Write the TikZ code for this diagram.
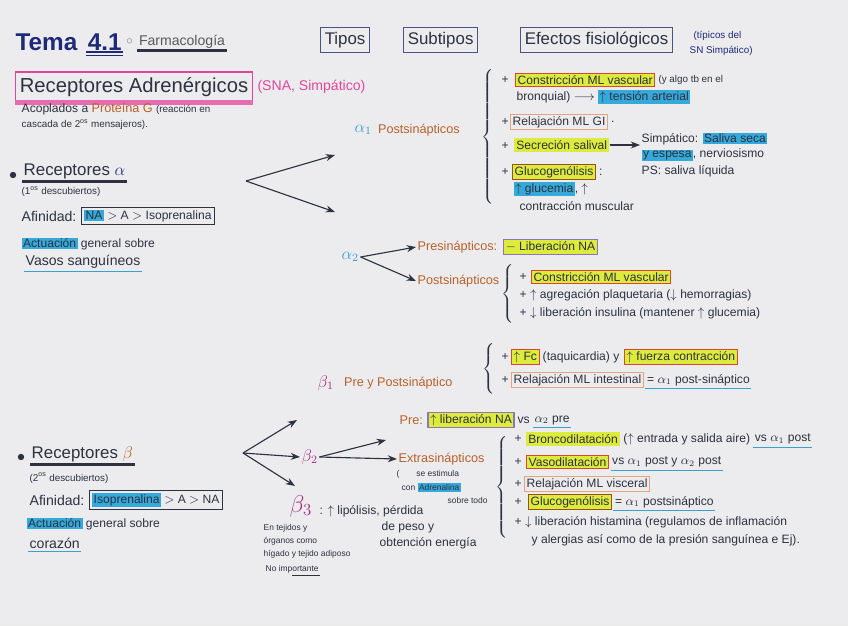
\documentclass[tikz,border=0pt]{standalone}
\usepackage{fontspec}
\setmainfont{Liberation Sans}
\usepackage{amsmath,amssymb}
\usepackage{xcolor}
\usepackage{tikz}
\usetikzlibrary{arrows.meta, positioning, calc}
\definecolor{ink}{HTML}{2E3140}
\definecolor{navy}{HTML}{1E2A78}
\definecolor{rust}{HTML}{B8612A}
\definecolor{sky}{HTML}{3AA0D2}
\definecolor{plum}{HTML}{A3317F}
\definecolor{rosa}{HTML}{E0479B}
\definecolor{hlyel}{HTML}{DDEB3C}
\definecolor{hlblu}{HTML}{35A9D9}
\definecolor{redpen}{HTML}{D9472F}
\definecolor{peach}{HTML}{E6A47E}
\definecolor{lilac}{HTML}{8B76B8}
\definecolor{brownpen}{HTML}{9A4F22}
\definecolor{slate}{HTML}{4B5585}
\definecolor{paper}{HTML}{ECECEE}
\newcommand{\hlblue}[1]{{\setlength{\fboxsep}{1pt}\colorbox{hlblu}{#1}}}
\tikzset{
    txt/.style={anchor=west, inner sep=1pt, text=ink, font=\fontsize{8.6pt}{10pt}\selectfont},
    smalltxt/.style={txt, font=\scriptsize},
    tinytxt/.style={txt, font=\fontsize{6pt}{7pt}\selectfont},
    head/.style={anchor=west, draw=slate, thick, inner sep=3pt, minimum height=0.62cm, text=ink, font=\large},
    hly/.style={txt, fill=hlyel, inner sep=1.5pt},
    redbox/.style={txt, fill=hlyel, draw=redpen, thick, inner sep=1.5pt},
    peachbox/.style={txt, draw=peach, thick, inner sep=1.5pt},
    lilacbox/.style={txt, fill=hlyel, draw=lilac, thick, inner sep=1.5pt},
    brownbox/.style={txt, fill=hlyel, draw=brownpen, thick, inner sep=1.5pt},
    inkbox/.style={txt, draw=ink, thick, inner sep=2pt},
    sub/.style={txt, text=rust, font=\small},
    greek/.style={anchor=west, inner sep=1pt, font=\large},
    bracenode/.style={inner sep=0pt, text=ink},
    arrow/.style={-Stealth, thick, color=ink},
    bluline/.style={draw=sky, thick}
}
\begin{document}
\begin{tikzpicture}[x=0.025cm, y=-0.025cm]
    \fill[paper] (0,0) rectangle (848,626);

    % Title
    \node [anchor=west, inner sep=1pt, text=navy, font=\LARGE\bfseries] (tema) at (14,42) {Tema};
    \node [anchor=west, inner sep=1pt, text=navy, font=\LARGE\bfseries, right=5pt of tema] (temanum) {4.1};
    \node [txt, right=1pt of temanum, text=gray] (temadot) {$\circ$};
    \node [anchor=west, inner sep=1pt, text=gray!70!black, font=\normalsize, right=2pt of temadot] (farma) {Farmacología};
    \draw [navy, thick] (temanum.south west) -- (temanum.south east);
    \draw [navy, thick] ([yshift=-2.5pt]temanum.south west) -- ([yshift=-2.5pt]temanum.south east);
    \draw [ink, line width=2.5pt] (farma.south west) -- (farma.south east);

    % Column heads
    \node [head] (tipos) at (320,40) {Tipos};
    \node [head] (subtipos) at (403,40) {Subtipos};
    \node [head] (efectos) at (520,40) {Efectos fisiológicos};
    \node [smalltxt, text=navy] (tipicos) at (692,36) {(típicos del};
    \node [smalltxt, text=navy] (snsimp) at (688,51) {SN Simpático)};

    % Receptores adrenergicos
    \node [anchor=west, draw=rosa, thick, inner sep=3pt, minimum height=0.75cm, text=ink, font=\Large] (adren) at (15,87) {Receptores Adrenérgicos};
    \draw [rosa!80, line width=3pt] (adren.south west) -- (adren.south east);
    \node [txt, text=rosa, font=\normalsize, right=2pt of adren] (sna) {(SNA, Simpático)};
    \node [txt] (acop) at (20,109) {Acoplados a \textcolor{rust}{\small Proteína G} {\scriptsize(reacción en}};
    \node [smalltxt] (cascada) at (20,125) {cascada de 2\textsuperscript{os} mensajeros).};

    % Receptores alfa
    \node [circle, fill=ink, inner sep=1.6pt] (bulleta) at (13,175) {};
    \node [txt, font=\large] (reca) at (22,171) {Receptores \textcolor{navy}{$\alpha$}};
    \draw [ink, line width=2pt] ([yshift=-1pt]reca.south west) -- ([yshift=-1pt]reca.south east);
    \node [smalltxt] (desc1) at (20,192) {(1\textsuperscript{os} descubiertos)};
    \node [txt, font=\normalsize] (afina) at (20,216) {Afinidad:};
    \node [inkbox, right=2pt of afina] (afinabox) {\hlblue{NA} $>$ A $>$ Isoprenalina};
    \node [txt] (acta) at (20,244) {\hlblue{Actuación} general sobre};
    \node [txt, font=\normalsize] (vasos) at (24,262) {Vasos sanguíneos};
    \draw [bluline] ([yshift=-1pt]vasos.south west) -- ([yshift=-1pt]vasos.south east);
    \coordinate (afork) at (246,181);
    \coordinate (atip1) at (335,155);
    \coordinate (atip2) at (335,212);

    % alfa 1
    \node [greek, text=sky] (a1) at (353,130) {$\alpha_1$};
    \node [sub, right=2pt of a1] (a1post) {Postsinápticos};
    \node [bracenode] (a1brace) at (489,138) {$\left\{\rule[-47pt]{0pt}{94pt}\right.$};
    \node [txt] (p1) at (500,80) {+};
    \node [redbox] (constr1) at (515,80) {Constricción ML vascular};
    \node [smalltxt, right=1pt of constr1] (constr1note) {(y algo tb en el};
    \node [txt] (bronq) at (515,97) {bronquial) $\longrightarrow$ \hlblue{$\uparrow$ tensión arterial}};
    \node [txt] (p2) at (500,122) {+};
    \node [peachbox] (relgi) at (510,122) {Relajación ML GI};
    \node [txt, right=1pt of relgi] (relgidot) {.};
    \node [txt] (p3) at (500,146) {+};
    \node [hly] (saliv) at (514,145) {Secreción salival};
    \node [txt] (simp) at (640,139) {Simpático: \hlblue{Saliva seca}};
    \node [txt] (simp2) at (640,155) {\hlblue{y espesa}, nerviosismo};
    \node [txt] (ps) at (640,171) {PS: saliva líquida};
    \node [txt] (p4) at (500,172) {+};
    \node [brownbox] (gluco1) at (512,172) {Glucogenólisis};
    \node [txt, right=1pt of gluco1] (gluco1dot) {:};
    \node [txt] (gluc1eff) at (512,189) {\hlblue{$\uparrow$ glucemia}, $\uparrow$};
    \node [txt] (contrac) at (518,206) {contracción muscular};

    % alfa 2
    \node [greek, text=sky] (a2) at (340,257) {$\alpha_2$};
    \node [sub] (pre2) at (416,247) {Presinápticos:};
    \node [lilacbox, right=3pt of pre2] (libna) {$-$ Liberación NA};
    \node [sub] (post2) at (416,281) {Postsinápticos};
    \node [bracenode] (a2brace) at (509,295) {$\left\{\rule[-20pt]{0pt}{40pt}\right.$};
    \node [txt] (q1) at (518,277) {+};
    \node [redbox] (constr2) at (531,277) {Constricción ML vascular};
    \node [txt] (q2) at (518,295) {+ $\uparrow$ agregación plaquetaria ($\downarrow$ hemorragias)};
    \node [txt] (q3) at (518,313) {+ $\downarrow$ liberación insulina (mantener $\uparrow$ glucemia)};

    % beta 1
    \node [greek, text=plum] (b1) at (316,383) {$\beta_1$};
    \node [sub, right=5pt of b1] (b1pre) {Pre y Postsináptico};
    \node [bracenode] (b1brace) at (490,369) {$\left\{\rule[-15pt]{0pt}{30pt}\right.$};
    \node [txt] (r1) at (500,357) {+};
    \node [redbox] (fc) at (511,357) {$\uparrow$ Fc};
    \node [txt, right=1pt of fc] (taq) {(taquicardia) y};
    \node [redbox, right=2pt of taq] (fuerza) {$\uparrow$ fuerza contracción};
    \node [txt] (r2) at (500,380) {+};
    \node [peachbox] (relint) at (511,380) {Relajación ML intestinal};
    \node [txt, right=1pt of relint] (eqa1) {= $\alpha_1$ post-sináptico};
    \draw [bluline] ([yshift=-1pt]eqa1.south west) -- ([yshift=-1pt]eqa1.south east);

    % Receptores beta
    \node [circle, fill=ink, inner sep=1.6pt] (bulletb) at (21,457) {};
    \node [txt, font=\large] (recb) at (30,454) {Receptores \textcolor{rust}{$\beta$}};
    \draw [ink, line width=2pt] ([yshift=-1pt]recb.south west) -- ([yshift=-1pt]recb.south east);
    \node [smalltxt] (desc2) at (28,478) {(2\textsuperscript{os} descubiertos)};
    \node [txt, font=\normalsize] (afinb) at (28,500) {Afinidad:};
    \node [inkbox, right=2pt of afinb] (afinbbox) {\hlblue{Isoprenalina} $>$ A $>$ NA};
    \node [txt] (actb) at (25,524) {\hlblue{Actuación} general sobre};
    \node [txt, font=\normalsize] (coraz) at (28,543) {corazón};
    \draw [bluline] ([yshift=-1pt]coraz.south west) -- ([yshift=-1pt]coraz.south east);
    \coordinate (bfork) at (243,453);
    \coordinate (btip1) at (297,420);
    \coordinate (btip3) at (295,486);

    % beta 2
    \node [greek, text=plum] (b2) at (300,457) {$\beta_2$};
    \node [sub] (preb) at (398,420) {Pre:};
    \node [lilacbox, right=2pt of preb] (libnab) {$\uparrow$ liberación NA};
    \node [txt, right=1pt of libnab] (vsb) {vs};
    \node [txt, right=1pt of vsb] (a2pre) {$\alpha_2$ pre};
    \draw [bluline] ([yshift=-1pt]a2pre.south west) -- ([yshift=-1pt]a2pre.south east);
    \coordinate (b2tip1) at (386,440);
    \node [sub] (extra) at (397,459) {Extrasinápticos};
    \node [tinytxt] (estim) at (395,474) {(\hspace{12pt}se estimula};
    \node [tinytxt] (conadr) at (400,487) {con \hlblue{Adrenalina}};
    \node [tinytxt] (sobre) at (446,500) {sobre todo};
    \node [bracenode] (b2brace) at (503,489) {$\left\{\rule[-36pt]{0pt}{72pt}\right.$};
    \node [txt] (s1) at (513,439) {+};
    \node [hly] (bronco) at (526,439) {Broncodilatación};
    \node [txt, right=1pt of bronco] (bronconote) {($\uparrow$ entrada y salida aire)};
    \node [txt, right=1pt of bronconote] (bvs1) {vs $\alpha_1$ post};
    \draw [bluline] ([yshift=-1pt]bvs1.south west) -- ([yshift=-1pt]bvs1.south east);
    \node [txt] (s2) at (513,462) {+};
    \node [redbox] (vaso) at (526,462) {Vasodilatación};
    \node [txt, right=1pt of vaso] (vasovs) {vs $\alpha_1$ post y $\alpha_2$ post};
    \draw [bluline] ([yshift=-1pt]vasovs.south west) -- ([yshift=-1pt]vasovs.south east);
    \node [txt] (s3) at (513,484) {+};
    \node [peachbox] (relvis) at (524,484) {Relajación ML visceral};
    \node [txt] (s4) at (513,502) {+};
    \node [brownbox] (gluco2) at (528,502) {Glucogenólisis};
    \node [txt, right=1pt of gluco2] (eqa1b) {= $\alpha_1$ postsináptico};
    \draw [bluline] ([yshift=-1pt]eqa1b.south west) -- ([yshift=-1pt]eqa1b.south east);
    \node [txt] (s5) at (513,522) {+ $\downarrow$ liberación histamina (regulamos de inflamación};
    \node [txt] (s5b) at (530,540) {y alergias así como de la presión sanguínea e Ej).};

    % beta 3
    \node [greek, text=plum, font=\LARGE] (b3) at (288,506) {$\beta_3$};
    \node [txt] (b3eff) at (318,511) {: $\uparrow$ lipólisis, pérdida};
    \node [txt] (b3eff2) at (380,527) {de peso y};
    \node [txt] (b3eff3) at (378,543) {obtención energía};
    \node [tinytxt] (tej) at (262,528) {En tejidos y};
    \node [tinytxt] (tej2) at (262,541) {órganos como};
    \node [tinytxt] (tej3) at (262,554) {hígado y tejido adiposo};
    \node [tinytxt] (noimp) at (264,569) {No importante};
    \draw [ink] ([yshift=-0.5pt]noimp.south) -- ([yshift=-0.5pt]noimp.south east);

    % Arrows
    \draw [arrow] (afork) -- (atip1);
    \draw [arrow] (afork) -- (atip2);
    \draw [arrow] (a2.east) -- (pre2.west);
    \draw [arrow] (a2.east) -- (post2.west);
    \draw [arrow] (saliv.east) -- (saliv.east -| simp.west);
    \draw [arrow] (bfork) -- (btip1);
    \draw [arrow] (bfork) -- (b2.west);
    \draw [arrow] (bfork) -- (btip3);
    \draw [arrow] (b2.east) -- (b2tip1);
    \draw [arrow] (b2.east) -- (extra.west);
\end{tikzpicture}
\end{document}
